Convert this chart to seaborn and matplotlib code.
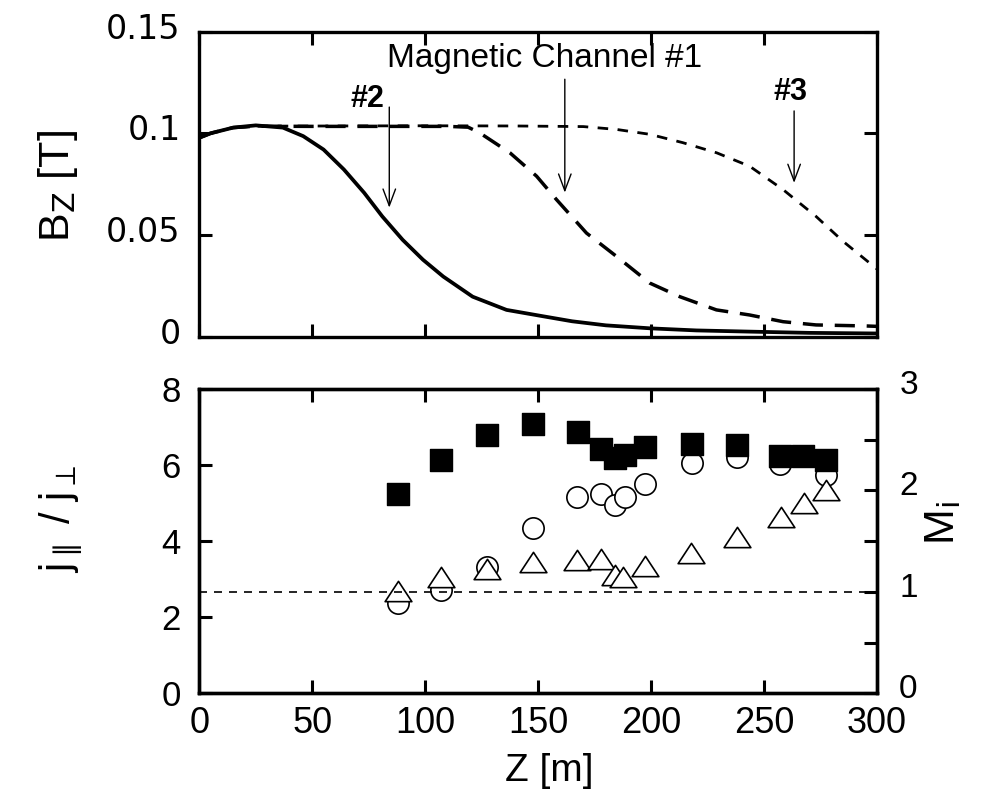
import matplotlib
matplotlib.use("Agg")
import matplotlib.pyplot as plt
import matplotlib.markers as mmarkers
from matplotlib.path import Path
from matplotlib.patches import ArrowStyle
from matplotlib.transforms import ScaledTranslation
from matplotlib.font_manager import fontManager
import seaborn as sns

# ---------------- data ----------------
# Upper panel: B_z [T] along Z [m] for the three magnetic channels
z_ch2 = [0, 5, 15, 25, 37, 46, 55, 64, 73, 81, 90, 99, 108, 121, 136, 152, 165, 180, 200, 220, 244, 270, 300]
b_ch2 = [0.0978, 0.1000, 0.1028, 0.1039, 0.1028, 0.0986, 0.0920, 0.0822, 0.0707, 0.0591, 0.0476, 0.0378,
         0.0295, 0.0196, 0.0131, 0.0100, 0.0075, 0.0055, 0.0040, 0.0030, 0.0024, 0.0018, 0.0015]

z_ch1 = [0, 5, 15, 25, 50, 80, 110, 119, 124, 137.5, 149.3, 158.1, 171.4, 184.7, 199.4, 212.7, 228.9,
         243.6, 258.4, 273, 295, 300]
b_ch1 = [0.0978, 0.1000, 0.1028, 0.1035, 0.1034, 0.1034, 0.1034, 0.1030, 0.1003, 0.0904, 0.0789, 0.0674,
         0.0509, 0.0394, 0.0263, 0.0196, 0.0131, 0.0106, 0.0073, 0.0057, 0.0052, 0.0050]

z_ch3 = [0, 5, 15, 25, 60, 100, 140, 170, 184.7, 199.4, 214, 229, 243.6, 258.4, 273, 285, 300]
b_ch3 = [0.0978, 0.1000, 0.1028, 0.1035, 0.1036, 0.1037, 0.1036, 0.1033, 0.1019, 0.0995, 0.0954, 0.0904,
         0.0838, 0.0723, 0.0591, 0.0468, 0.0332]

# Lower panel
z_sq = [87.8, 107.2, 127.4, 147.8, 167.7, 177.6, 183.9, 188.3, 197.2, 217.9, 237.8, 257.0, 267.4, 277.3]
j_ratio = [5.24, 6.14, 6.80, 7.08, 6.88, 6.43, 6.18, 6.27, 6.47, 6.56, 6.53, 6.24, 6.24, 6.14]

z_ci = [87.8, 107.2, 127.4, 147.8, 167.3, 177.6, 183.9, 188.3, 197.2, 217.9, 237.8, 257.0, 277.3]
m_ci = [0.89, 1.02, 1.25, 1.63, 1.94, 1.97, 1.86, 1.94, 2.06, 2.27, 2.33, 2.26, 2.155]

z_tr = [87.8, 107.2, 127.4, 147.8, 167.3, 177.6, 184.0, 187.4, 197.2, 217.6, 237.8, 257.3, 267.6, 277.6]
m_tr = [1.01, 1.145, 1.227, 1.29, 1.31, 1.326, 1.17, 1.145, 1.257, 1.38, 1.54, 1.74, 1.875, 2.0]

mach_ref = 1.0

x_ticks = [0, 50, 100, 150, 200, 250, 300]
x_tick_labels = ["0", "50", "100", "150", "200", "250", "300"]
bz_ticks = [0, 0.05, 0.1, 0.15]
bz_tick_labels = ["0", "0.05", "0.1", "0.15"]
j_ticks = [0, 2, 4, 6, 8]
j_tick_labels = ["0", "2", "4", "6", "8"]
m_ticks = [0, 1, 2, 3]
m_tick_labels = ["0", "1", "2", "3"]
m_minor_ticks = [0.5, 1.5, 2.5]

# ---------------- style ----------------
sns.set_style("ticks")
plt.rcParams["font.family"] = ["Liberation Sans", "DejaVu Sans"]
plt.rcParams["mathtext.fontset"] = "dejavusans"
plt.rcParams["axes.linewidth"] = 2.4
for key in ("text.color", "axes.labelcolor", "xtick.color", "ytick.color", "axes.edgecolor"):
    plt.rcParams[key] = "black"

names = {f.name for f in fontManager.ttflist}
narrow = ["Liberation Sans Narrow", "Liberation Sans"] if "Liberation Sans Narrow" in names else ["Liberation Sans"]

fig = plt.figure(figsize=(9.92, 7.92), dpi=100, facecolor="white")
ax1 = fig.add_axes([0.2009, 0.5751, 0.6832, 0.3849])
ax2 = fig.add_axes([0.2009, 0.1246, 0.6832, 0.3842])
ax2r = ax2.twinx()
ax2.set_zorder(ax2r.get_zorder() + 1)
ax2.patch.set_visible(False)

# ---- upper panel ----
sns.lineplot(x=z_ch3, y=b_ch3, ax=ax1, color="k", lw=2.0, linestyle=(0, (3.8, 3.4)))
sns.lineplot(x=z_ch1, y=b_ch1, ax=ax1, color="k", lw=2.5, linestyle=(0, (5.8, 3.4)))
sns.lineplot(x=z_ch2, y=b_ch2, ax=ax1, color="k", lw=2.7, linestyle="-")

ax1.set_xlim(0, 300)
ax1.set_ylim(0, 0.15)
ax1.set_xticks(x_ticks)
ax1.set_xticklabels([])
ax1.set_yticks(bz_ticks)
ax1.set_yticklabels(bz_tick_labels, family=["DejaVu Sans"], fontsize=24)
ax1.tick_params(axis="both", direction="in", length=9.5, width=2.2, top=True, right=True,
                labelbottom=False, pad=13.5)
ax1.set_xlabel("")
ax1.set_ylabel(r"B$_\mathrm{Z}$ [T]", fontsize=31)
ax1.yaxis.set_label_coords(-0.176, 0.494)

arrow = ArrowStyle("->", head_length=0.8, head_width=0.3)
ap = dict(arrowstyle=arrow, lw=1.0, color="k", shrinkA=0, shrinkB=0, mutation_scale=15)
ax1.annotate("", xy=(84.1, 0.0634), xytext=(84.1, 0.1129), arrowprops=ap)
ax1.annotate("", xy=(161.8, 0.0708), xytext=(161.8, 0.1266), arrowprops=ap)
ax1.annotate("", xy=(263.3, 0.0756), xytext=(263.3, 0.1110), arrowprops=ap)
ax1.text(153.0, 0.1325, "Magnetic Channel #1", ha="center", va="baseline", fontsize=24)
ax1.text(74.4, 0.1167, "#2", ha="center", va="center", fontsize=22, fontweight="bold")
ax1.text(261.8, 0.1202, "#3", ha="center", va="center", fontsize=22, fontweight="bold")

# ---- lower panel ----
ax2r.axhline(mach_ref, color="k", lw=1.2, linestyle=(0, (4.8, 4.2)))
tri = mmarkers.MarkerStyle(Path([(-1, -0.76), (1, -0.76), (0, 0.76), (-1, -0.76)], closed=True))
sns.scatterplot(x=z_ci, y=m_ci, ax=ax2r, marker="o", s=235, color="white", edgecolor="k", linewidth=1.2)
sns.scatterplot(x=z_tr, y=m_tr, ax=ax2r, marker=tri, s=370, color="white", edgecolor="k", linewidth=1.2)
sns.scatterplot(x=z_sq, y=j_ratio, ax=ax2, marker="s", s=250, color="k", edgecolor="k", linewidth=1.0)

ax2.set_xlim(0, 300)
ax2.set_ylim(0, 8)
ax2.set_xticks(x_ticks)
ax2.set_xticklabels(x_tick_labels, family=narrow, fontsize=26)
ax2.set_yticks(j_ticks)
ax2.set_yticklabels(j_tick_labels, fontsize=25)
ax2.tick_params(axis="y", direction="in", length=9.5, width=2.2, left=True, right=False, pad=13.5)
ax2.tick_params(axis="x", direction="in", length=9.5, width=2.2, top=True, bottom=True, pad=9)
ax2.set_xlabel("Z [m]", fontsize=28, family=narrow)
ax2.xaxis.set_label_coords(0.516, -0.196)
ax2.set_ylabel(r"j$_\parallel$ / j$_\perp$", fontsize=30)
ax2.yaxis.set_label_coords(-0.169, 0.573)

ax2r.set_ylim(0, 3)
ax2r.set_yticks(m_ticks)
ax2r.set_yticklabels(m_tick_labels, fontsize=24)
ax2r.set_yticks(m_minor_ticks, minor=True)
ax2r.tick_params(axis="y", which="both", direction="in", length=9.5, width=2.2, right=True, left=False, pad=16)
ax2r.set_ylabel(r"M$_\mathrm{i}$", fontsize=31, family=narrow)
ax2r.yaxis.set_label_coords(1.068, 0.558)

for a in (ax1, ax2, ax2r):
    for sp in a.spines.values():
        sp.set_linewidth(2.4)
        sp.set_color("k")

# small vertical offsets of tick labels as in the reference
for t in ax1.yaxis.get_major_ticks():
    t.label1.set_transform(t.label1.get_transform() + ScaledTranslation(0, 6 / 100, fig.dpi_scale_trans))
for t in ax2r.yaxis.get_major_ticks():
    t.label2.set_transform(t.label2.get_transform() + ScaledTranslation(0, 7 / 100, fig.dpi_scale_trans))

fig.savefig("out.png", dpi=100, facecolor="white")
